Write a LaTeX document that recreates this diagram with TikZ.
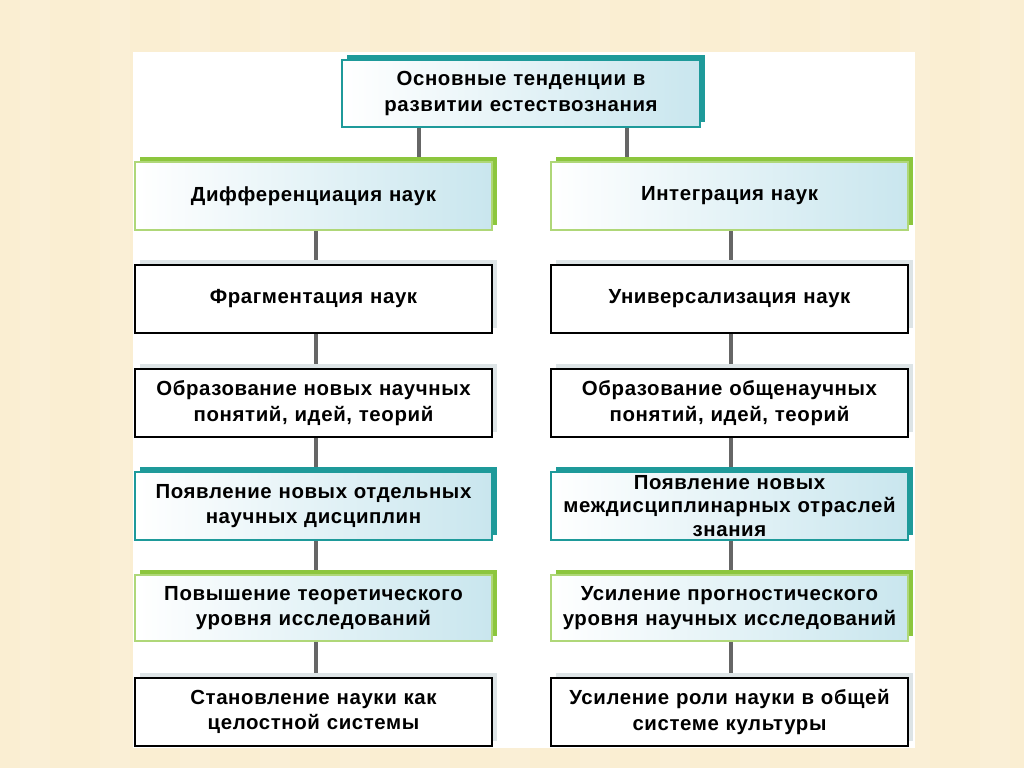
\documentclass[tikz,border=0pt]{standalone}
\usepackage{fontspec}
\setmainfont{Liberation Sans}[LetterSpace=3]
\begin{document}
\begin{tikzpicture}[x=0.75pt,y=-0.75pt,
  lbl/.style={font=\bfseries\fontsize{15.3}{19}\selectfont,align=center,text width=350pt},
  conn/.style={draw=black!60,line width=2.6pt}]
\definecolor{bgc}{HTML}{FAEED2}
\definecolor{tealc}{HTML}{1E9A9A}
\definecolor{greenc}{HTML}{8CC63E}
\definecolor{lightb}{HTML}{C9E6EE}
\definecolor{greyc}{HTML}{DDE4E6}
\useasboundingbox (0,0) rectangle (1024,768);
\fill[bgc] (0,0) rectangle (1024,768);
\foreach \i in {0,...,12}{\fill[white,opacity=0.1] (\i*80+20,0) rectangle (\i*80+50,768);}
\fill[white] (133,52) rectangle (915,748);
\newcommand{\mybox}[6]{% name, x1, y1, x2, y2, kind
  \ifcase#6
    \fill[greyc] (#2+5,#3-5) rectangle (#4+5,#5-5);
    \node[draw=black,line width=1pt,fill=white,minimum width=(#4-#2)*0.75pt,minimum height=(#5-#3)*0.75pt,inner sep=0pt] (#1) at ({(#2+#4)/2},{(#3+#5)/2}) {};
  \or
    \fill[greenc] (#2+5,#3-5) rectangle (#4+5,#5-5);
    \shade[left color=white,right color=lightb] (#2,#3) rectangle (#4,#5);
    \node[draw=greenc!70,line width=0.8pt,minimum width=(#4-#2)*0.75pt,minimum height=(#5-#3)*0.75pt,inner sep=0pt] (#1) at ({(#2+#4)/2},{(#3+#5)/2}) {};
  \or
    \fill[tealc] (#2+5,#3-5) rectangle (#4+5,#5-5);
    \shade[left color=white,right color=lightb] (#2,#3) rectangle (#4,#5);
    \node[draw=tealc,line width=0.8pt,minimum width=(#4-#2)*0.75pt,minimum height=(#5-#3)*0.75pt,inner sep=0pt] (#1) at ({(#2+#4)/2},{(#3+#5)/2}) {};
  \fi}
\draw[conn] (419,127) -- (419,162);
\draw[conn] (627,127) -- (627,162);
\foreach \a/\b in {230/265,333/369,437/472,540/575,641/678}{
  \draw[conn] (316,\a) -- (316,\b);
  \draw[conn] (731,\a) -- (731,\b);}
\mybox{top}{342}{60}{700}{127}{2}
\mybox{l1}{135}{162}{492}{230}{1}
\mybox{r1}{551}{162}{908}{230}{1}
\mybox{l2}{135}{265}{492}{333}{0}
\mybox{r2}{551}{265}{908}{333}{0}
\mybox{l3}{135}{369}{492}{437}{0}
\mybox{r3}{551}{369}{908}{437}{0}
\mybox{l4}{135}{472}{492}{540}{2}
\mybox{r4}{551}{472}{908}{540}{2}
\mybox{l5}{135}{575}{492}{641}{1}
\mybox{r5}{551}{575}{908}{641}{1}
\mybox{l6}{135}{678}{492}{746}{0}
\mybox{r6}{551}{678}{908}{746}{0}
\node[lbl] at (top) {Основные тенденции в\\развитии естествознания};
\node[lbl] at (l1) {Дифференциация наук};
\node[lbl] at (r1) {Интеграция наук};
\node[lbl] at (l2) {Фрагментация наук};
\node[lbl] at (r2) {Универсализация наук};
\node[lbl] at (l3) {Образование новых научных\\понятий, идей, теорий};
\node[lbl] at (r3) {Образование общенаучных\\понятий, идей, теорий};
\node[lbl] at (l4) {Появление новых отдельных\\научных дисциплин};
\node[lbl,font=\bfseries\fontsize{15.3}{17.5}\selectfont] at (r4) {Появление новых\\междисциплинарных отраслей\\знания};
\node[lbl] at (l5) {Повышение теоретического\\уровня исследований};
\node[lbl] at (r5) {Усиление прогностического\\уровня научных исследований};
\node[lbl] at (l6) {Становление науки как\\целостной системы};
\node[lbl] at (r6) {Усиление роли науки в общей\\системе культуры};
\end{tikzpicture}
\end{document}
